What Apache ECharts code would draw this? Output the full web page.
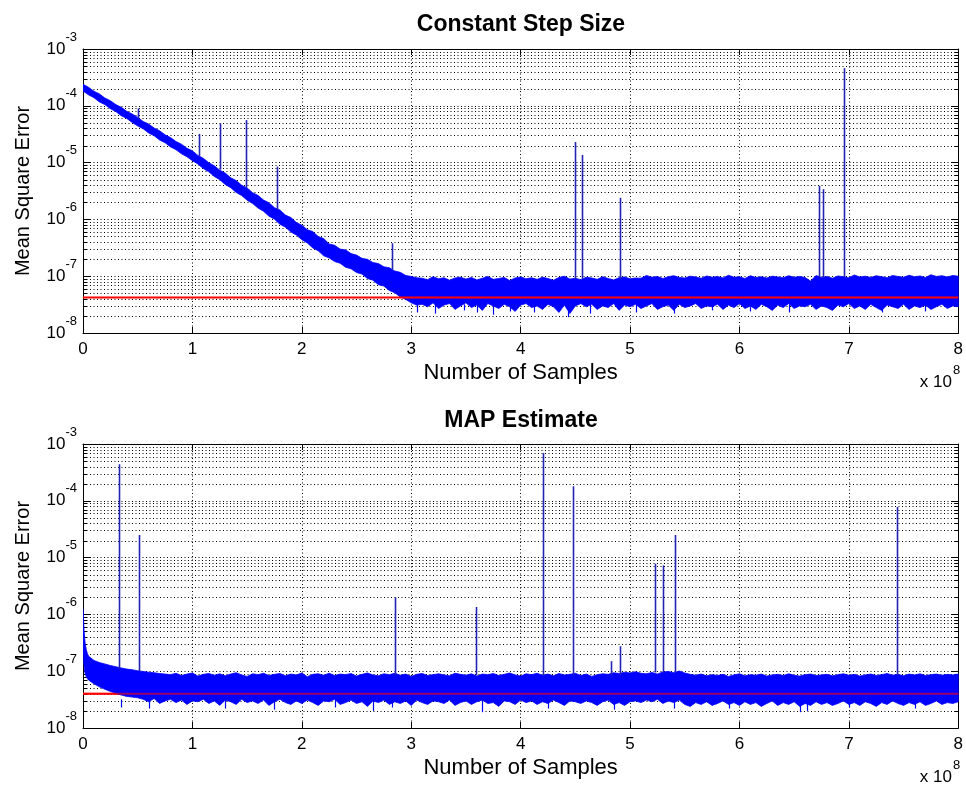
<!DOCTYPE html>
<html><head><meta charset="utf-8">
<script src="https://cdn.jsdelivr.net/npm/echarts@6/dist/echarts.min.js"></script>
<style>html,body{margin:0;padding:0;background:#fff}#c{width:966px;height:786px}</style>
</head><body><div id="c"></div>
<script>
// ---------------- DATA ----------------
const titles = ['Constant Step Size', 'MAP Estimate'];
const xTickLabels = ['0','1','2','3','4','5','6','7','8'];
const yTickExponents = [-8,-7,-6,-5,-4,-3];
const xAxisName = 'Number of Samples';
const yAxisName = 'Mean Square Error';
const xScaleNote = ['x 10', '8'];

const X_STEP = 0.05;   // envelope sample spacing (units of 1e8 samples)
const UNIT = 1e-8;     // envelope values below are in units of 1e-8

// Constant Step Size: upper / lower edge of the noisy trace (x = 0, 0.05, ... 8)
const topUpper = [
24000,21200,18100,16200,13700,12300,10500,9400,8000,7150,
6250,5300,4780,4050,3640,3080,2760,2350,2110,1790,
1610,1340,1190,995,880,735,655,540,482,400,
357,296,264,219,196,161,146,119,108,88,
79,66,61,50,46,37,35,30,29,25,
23.5,20.6,19.8,17.4,16.7,14.6,14.1,12.3,11.7,10.3,
9.9,9.4,
9.2,8.7,9.8,9.0,9.4,8.5,9.3,9.6,8.9,9.5,
8.6,9.2,9.9,8.8,9.1,9.5,8.4,9.3,9.7,9.0,
9.4,8.8,9.6,9.1,8.5,9.5,10.0,8.9,9.2,8.7,
9.6,9.3,8.8,9.8,9.1,8.6,9.4,9.7,9.0,9.3,
9.2,10.3,9.6,9.9,9.1,9.8,10.2,9.5,9.3,10.0,
9.7,9.2,10.1,9.6,9.9,9.3,10.4,9.6,9.8,9.1,
10.2,9.5,9.8,9.3,10.0,9.7,9.4,10.2,9.6,9.9,
9.5,8.2,10.3,9.5,9.9,9.2,10.1,9.8,9.4,10.5,
9.7,10.0,9.5,10.2,9.8,9.4,10.3,9.9,9.6,10.4,
9.8,10.1,9.5,10.6,9.9,10.2,9.7,10.3,10.0];
const topLower = [
18200,15600,13900,11700,10500,8900,7900,6700,6000,5080,
4420,3930,3320,2970,2500,2240,1890,1690,1430,1270,
1080,945,785,688,570,500,412,362,298,263,
218,191,158,139,114,101,82,73,60,53,
44,38.5,31.5,28,22.8,21,18.1,16.9,14.4,13.5,
11.6,10.9,9.1,8.5,7.1,6.7,5.6,5.1,4.3,3.9,
3.4,3.1,
3.2,2.9,3.4,2.7,3.1,3.3,2.6,3.0,3.4,2.8,
3.1,2.5,3.3,3.0,2.7,3.2,2.9,2.4,3.1,3.3,
2.8,3.0,2.6,3.2,2.9,2.3,3.1,2.2,3.0,3.3,
2.9,3.2,2.6,3.0,2.8,3.3,2.5,3.1,2.9,3.2,
2.7,3.0,3.3,2.6,2.9,3.1,2.5,3.2,2.8,3.0,
3.3,2.7,3.0,2.9,3.2,2.6,3.1,2.8,3.3,2.7,
3.0,2.6,3.2,2.9,2.5,3.1,2.8,3.3,2.7,3.0,
2.9,3.2,2.6,3.0,2.8,2.5,3.1,2.9,3.3,2.7,
3.0,2.6,3.2,2.8,2.5,3.1,2.9,2.7,3.2,2.6,
3.0,2.8,3.1,2.6,2.9,3.2,2.7,3.0,2.9];

// MAP Estimate: upper / lower edge (x = 0, 0.05, ... 8) plus the steep start
const bottomUpper = [
125,
18.5,15.5,14.2,13.4,12.6,12.0,11.4,10.9,10.6,10.2,9.9,9.6,9.4,9.1,8.9,
8.7,9.2,8.4,8.9,9.3,8.2,8.8,9.1,8.5,9.0,
8.3,8.9,9.4,8.6,8.1,9.0,8.7,9.2,8.4,8.8,
9.1,8.3,8.9,8.6,9.3,8.0,8.8,9.0,8.5,9.2,
8.4,8.9,8.7,9.1,8.2,8.8,9.3,8.6,8.3,9.0,
8.7,9.2,8.5,8.9,8.1,8.8,9.1,8.4,8.7,9.0,
8.6,8.3,9.2,8.8,8.5,9.0,8.2,8.9,8.7,9.1,
8.4,8.8,9.3,8.6,8.2,9.0,8.7,9.2,8.5,8.9,
8.3,9.1,8.6,8.8,9.2,8.4,8.9,8.1,8.7,9.0,
8.8,9.4,9.1,9.6,9.3,9.8,9.2,9.0,9.5,8.9,
9.7,9.9,9.4,10.1,9.3,8.8,8.5,8.9,8.3,8.7,
8.4,8.8,8.1,8.6,9.0,8.3,8.7,8.5,8.9,8.2,
8.6,8.8,8.4,9.0,8.5,8.2,8.7,8.9,8.4,8.6,
8.8,8.3,8.7,9.0,8.5,8.8,8.2,8.6,8.9,8.4,
8.7,9.1,8.5,8.8,8.3,8.9,8.6,9.0,8.4,8.7,
8.9,8.5,8.8,8.6,8.9];
const bottomLower = [
22,
7.0,6.0,5.3,4.8,4.4,4.1,3.8,3.6,3.5,3.4,
3.2,2.9,3.3,2.7,3.0,3.2,2.8,3.1,2.6,3.0,
2.9,3.2,2.7,3.0,2.5,3.1,2.9,2.6,3.2,2.8,
3.0,2.7,3.1,2.5,2.9,3.2,2.8,2.6,3.0,2.7,
3.1,2.8,2.5,3.0,2.9,3.2,2.6,2.8,3.1,2.7,
2.9,2.4,3.0,2.8,3.1,2.6,2.9,2.7,3.0,2.5,
3.1,2.8,2.6,3.0,2.9,2.7,3.1,2.5,2.8,3.0,
2.6,2.9,3.1,2.7,2.8,2.4,3.0,2.9,2.6,3.1,
2.8,3.0,2.6,2.9,2.7,3.1,2.8,2.5,3.0,2.9,
2.7,3.0,2.8,2.5,2.9,3.1,2.6,2.8,2.5,2.9,
3.0,2.8,3.1,2.9,3.2,2.7,3.0,2.8,3.1,2.6,
2.4,2.8,2.6,2.9,2.5,2.7,3.0,2.6,2.8,2.5,
2.9,2.6,2.8,2.4,2.7,3.0,2.5,2.8,2.6,2.9,
2.4,2.7,2.5,2.9,2.6,2.8,2.5,2.7,3.0,2.6,
2.8,2.5,2.9,2.7,2.4,2.8,2.6,3.0,2.7,2.5,
2.8,2.6,2.9,2.5,2.7,3.0,2.6,2.8,2.7,2.9];
const bottomHeadX = [0.005,0.01,0.015,0.02,0.03,0.04];
const bottomHeadUpper = [80,52,38,31,24,20.5];
const bottomHeadLower = [16,12,10,9.0,8.0,7.4];

// isolated spikes: x, foot value, peak value
const topSpikeX    = [0.50,1.06,1.25,1.49,1.776,2.82,4.50,4.56,4.905,6.73,6.76,6.96];
const topSpikeBase = [6.0e-5,1.3e-5,7.5e-6,3.6e-6,1.5e-6,1.3e-7,9e-8,9e-8,9e-8,9.5e-8,9.5e-8,9.5e-8];
const topSpikePeak = [9.0e-5,3.2e-5,4.9e-5,5.6e-5,8.5e-6,3.8e-7,2.3e-5,1.36e-5,2.4e-6,3.9e-6,3.4e-6,4.6e-4];
const bottomSpikeX    = [0.328,0.516,2.85,3.595,4.208,4.48,4.83,4.905,5.225,5.30,5.415,7.44];
const bottomSpikeBase = [1.1e-7,1.0e-7,8.5e-8,8.5e-8,8.5e-8,8.5e-8,8.5e-8,8.5e-8,9.5e-8,9.5e-8,9.5e-8,8.5e-8];
const bottomSpikePeak = [4.4e-4,2.5e-5,2.0e-6,1.35e-6,6.9e-4,1.8e-4,1.5e-7,2.75e-7,7.8e-6,7.3e-6,2.5e-5,7.8e-5];

// downward noise dips below the band
const topDipX   = [3.05,3.22,3.48,3.6,3.75,3.9,4.12,4.43,4.63,5.05,5.4,5.75,6.1,6.45,7.3,7.7];
const topDipVal = [2.3e-8,2.2e-8,2.5e-8,2.3e-8,2.1e-8,2.4e-8,2.3e-8,1.9e-8,2.2e-8,2.3e-8,2.2e-8,2.5e-8,2.4e-8,2.3e-8,2.3e-8,2.4e-8];
const bottomDipX   = [0.35,0.6,1.3,1.75,2.3,2.65,2.82,3.65,4.25,4.85,5.4,5.9,6.55,6.62,7.0,7.6];
const bottomDipVal = [2.3e-8,2.2e-8,2.2e-8,2.1e-8,2.3e-8,2.0e-8,2.3e-8,1.9e-8,2.2e-8,2.1e-8,2.2e-8,2.2e-8,1.9e-8,2.0e-8,2.3e-8,2.2e-8];
const DIP_FOOT = 3.2e-8;

// red reference levels
const topRedLevel = 4.2e-8;
const bottomRedLevel = 4.0e-8;

// log minor grid factors
const minorFactors = [2,3,4,5,6,7,8,9];

// ---------------- BUILD ----------------
[topUpper, topLower, bottomUpper, bottomLower].forEach((a, i) => {
  if (a.length !== 161) throw new Error('array ' + i + ' has length ' + a.length);
});

function envelope(up, lo, headX, headUp, headLo) {
  const xs = [], u = [], l = [];
  for (let i = 0; i < up.length; i++) {
    xs.push(+(i * X_STEP).toFixed(3)); u.push(up[i] * UNIT); l.push(lo[i] * UNIT);
    if (i === 0 && headX) {
      for (let k = 0; k < headX.length; k++) { xs.push(headX[k]); u.push(headUp[k] * UNIT); l.push(headLo[k] * UNIT); }
    }
  }
  return {xs, u, l};
}
const topEnv = envelope(topUpper, topLower);
const botEnv = envelope(bottomUpper, bottomLower, bottomHeadX, bottomHeadUpper, bottomHeadLower);

const FONT = '"Liberation Sans", Arial, Helvetica, sans-serif';
const DOT = [1, 2.5];
const X_MIN = 0, X_MAX = 8, Y_MIN = 1e-8, Y_MAX = 1e-3;

const minorValues = [];
for (let e = -8; e < -3; e++) minorFactors.forEach(f => minorValues.push(f * Math.pow(10, e)));

function grid(top) { return {left: 83, top: top, width: 879, height: 284, containLabel: false}; }

function xAxes(g) {
  const line = {show: true, onZero: false, lineStyle: {color: '#000', width: 1}};
  const tick = {show: true, inside: true, length: 6, lineStyle: {color: '#000', width: 1}};
  return [
    {gridIndex: g, type: 'value', min: X_MIN, max: X_MAX, interval: 1, position: 'bottom',
     axisLine: line, axisTick: tick,
     axisLabel: {show: true, color: '#000', fontSize: 17, fontFamily: FONT, margin: 8,
                 formatter: v => xTickLabels[Math.round(v)]},
     splitLine: {show: true, lineStyle: {color: '#000', width: 1, type: DOT}},
     name: xAxisName, nameLocation: 'middle', nameGap: 29,
     nameTextStyle: {fontSize: 22, color: '#000', fontFamily: FONT}},
    {gridIndex: g, type: 'value', min: X_MIN, max: X_MAX, interval: 1, position: 'top',
     axisLine: line, axisTick: tick, axisLabel: {show: false}, splitLine: {show: false}}
  ];
}
function yAxes(g) {
  const line = {show: true, onZero: false, lineStyle: {color: '#000', width: 1}};
  const tick = {show: true, inside: true, length: 7, lineStyle: {color: '#000', width: 1}};
  return [
    {gridIndex: g, type: 'log', logBase: 10, min: Y_MIN, max: Y_MAX, position: 'left',
     axisLine: line, axisTick: tick,
     axisLabel: {show: true, margin: 6, showMinLabel: true, showMaxLabel: true,
       padding: [0, 0, 10, 0],
       formatter: v => { const e = Math.round(Math.log10(v)); return yTickExponents.includes(e) ? '{b|10}{e|' + e + '}' : ''; },
       rich: {
         b: {fontSize: 17, lineHeight: 17, padding: [10, 0, 0, 0], color: '#000', fontFamily: FONT},
         e: {fontSize: 13, lineHeight: 13, padding: [0, 0, 14, 0], color: '#000', fontFamily: FONT}
       }},
     splitLine: {show: true, lineStyle: {color: '#000', width: 1, type: DOT}},
     name: yAxisName, nameLocation: 'middle', nameGap: 50, nameRotate: 90,
     nameTextStyle: {fontSize: 20, color: '#000', fontFamily: FONT}},
    {gridIndex: g, type: 'log', logBase: 10, min: Y_MIN, max: Y_MAX, position: 'right',
     axisLine: line, axisTick: tick, axisLabel: {show: false}, splitLine: {show: false}}
  ];
}

function minorGridSeries(g) {
  return {
    type: 'custom', xAxisIndex: 2 * g, yAxisIndex: 2 * g, silent: true, z: 1,
    data: minorValues.map(v => [X_MIN, v]),
    renderItem: (params, api) => {
      const v = api.value(1);
      const p1 = api.coord([X_MIN, v]), p2 = api.coord([X_MAX, v]);
      const y = Math.round(p1[1]) + 0.5;
      return {type: 'group', children: [
        {type: 'line', shape: {x1: p1[0], y1: y, x2: p2[0], y2: y}, style: {stroke: '#000', lineWidth: 1, lineDash: DOT}},
        {type: 'line', shape: {x1: p1[0], y1: y, x2: p1[0] + 4, y2: y}, style: {stroke: '#000', lineWidth: 1}},
        {type: 'line', shape: {x1: p2[0] - 4, y1: y, x2: p2[0], y2: y}, style: {stroke: '#000', lineWidth: 1}}
      ]};
    }
  };
}

function bandSeries(g, env) {
  return {
    type: 'custom', xAxisIndex: 2 * g, yAxisIndex: 2 * g, silent: true, z: 3, clip: true,
    data: [[env.xs[0], env.u[0]]],
    renderItem: (params, api) => {
      const pts = [];
      for (let i = 0; i < env.xs.length; i++) pts.push(api.coord([env.xs[i], env.u[i]]));
      for (let i = env.xs.length - 1; i >= 0; i--) pts.push(api.coord([env.xs[i], env.l[i]]));
      return {type: 'polygon', shape: {points: pts}, style: {fill: '#0000ff', stroke: '#0000ff', lineWidth: 0.8}};
    }
  };
}

function spikeSeries(g, xs, base, peak, color, width, z) {
  return {
    type: 'custom', xAxisIndex: 2 * g, yAxisIndex: 2 * g, silent: true, z: z, clip: true,
    encode: {x: 0, y: [1, 2]},
    data: xs.map((x, i) => [x, base[i], peak[i]]),
    renderItem: (params, api) => {
      const a = api.coord([api.value(0), api.value(1)]);
      const b = api.coord([api.value(0), api.value(2)]);
      const x = Math.round(a[0]) + 0.5;
      return {type: 'line', shape: {x1: x, y1: a[1], x2: x, y2: b[1]}, style: {stroke: color, lineWidth: width}};
    }
  };
}

function redSeries(g, level, color, z) {
  return {
    type: 'line', xAxisIndex: 2 * g, yAxisIndex: 2 * g, silent: true, z: z,
    data: [[X_MIN, level], [X_MAX, level]], showSymbol: false, symbol: 'none',
    lineStyle: {color: color, width: 2}, animation: false
  };
}

const txt = (x, y, text, font, align) => ({type: 'text', x: x, y: y, z: 100,
  style: {text: text, font: font, fill: '#000', align: align, verticalAlign: 'middle', textAlign: align, textVerticalAlign: 'middle'}});

const option = {
  animation: false,
  backgroundColor: '#fff',
  grid: [grid(49), grid(444)],
  xAxis: [...xAxes(0), ...xAxes(1)],
  yAxis: [...yAxes(0), ...yAxes(1)],
  series: [
    minorGridSeries(0), minorGridSeries(1),
    redSeries(1, bottomRedLevel, '#ff0000', 2),
    bandSeries(0, topEnv), bandSeries(1, botEnv),
    spikeSeries(0, topDipX, topDipX.map(() => DIP_FOOT), topDipVal, '#0000ff', 1.2, 4),
    spikeSeries(1, bottomDipX, bottomDipX.map(() => DIP_FOOT), bottomDipVal, '#0000ff', 1.2, 4),
    spikeSeries(0, topSpikeX, topSpikeBase, topSpikePeak, '#2323b4', 1.6, 5),
    spikeSeries(1, bottomSpikeX, bottomSpikeBase, bottomSpikePeak, '#2323b4', 1.6, 5),
    redSeries(0, topRedLevel, '#ff0000', 6),
    redSeries(1, bottomRedLevel, 'rgba(255,0,0,0.6)', 6)
  ],
  graphic: [
    txt(521, 25, titles[0], 'bold 23px ' + FONT, 'center'),
    txt(521, 421, titles[1], 'bold 23px ' + FONT, 'center'),
    txt(952, 382, xScaleNote[0], '17px ' + FONT, 'right'),
    txt(953, 370, xScaleNote[1], '13px ' + FONT, 'left'),
    txt(952, 777, xScaleNote[0], '17px ' + FONT, 'right'),
    txt(953, 765, xScaleNote[1], '13px ' + FONT, 'left')
  ]
};

const chart = echarts.init(document.getElementById('c'), null, {renderer: 'canvas'});
chart.setOption(option);
</script>
</body></html>
